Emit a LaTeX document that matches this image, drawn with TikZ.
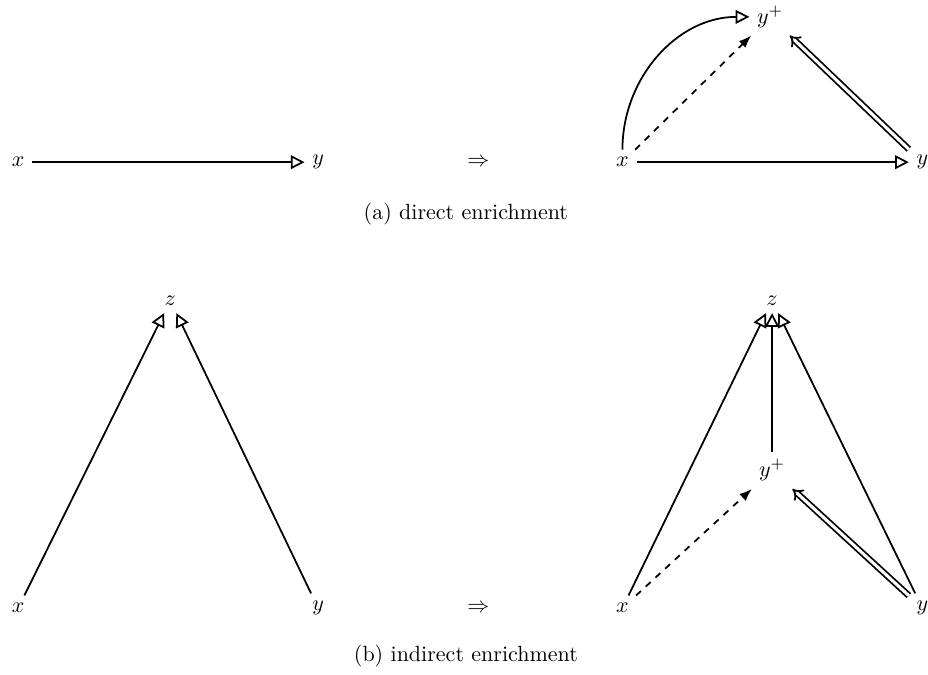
\documentclass[tikz,border=0pt]{standalone}
\usepackage{amsmath,amssymb}
\usetikzlibrary{arrows.meta,positioning}

\begin{document}
\begin{tikzpicture}[
  edge/.style={-{Triangle[open,length=2.2mm,width=2.2mm]}, thick},
  enrich/.style={-{Latex[length=2mm]}, thick, dashed},
  lift/.style={-{Implies}, double, thick, double distance=1.4pt},
  caption/.style={font=\normalsize}
]
\useasboundingbox (0,0) rectangle (14.82,10.77);

% (a) direct enrichment
\node (xa) at (0.29,8.18) {$x$};
\node (ya) at (5.08,8.18) {$y$};
\node (ia) at (7.64,8.18) {$\Rightarrow$};
\node (xA) at (9.94,8.18) {$x$};
\node (yA) at (14.73,8.18) {$y$};
\node (pA) at (12.30,10.50) {$y^+$};

\draw[edge] (xa) -- (ya);
\draw[edge] (xA) -- (yA);
\draw[edge] (xA) to[out=90, in=180] (pA);
\draw[enrich] (xA) -- (pA);
\draw[lift] (yA) -- (pA);

\node[caption] (ca) at (7.44,7.35) {(a) direct enrichment};

% (b) indirect enrichment
\node (xb) at (0.29,1.06) {$x$};
\node (yb) at (5.08,1.06) {$y$};
\node (zb) at (2.72,5.97) {$z$};
\node (ib) at (7.64,1.06) {$\Rightarrow$};
\node (xB) at (9.94,1.06) {$x$};
\node (yB) at (14.73,1.06) {$y$};
\node (zB) at (12.33,5.97) {$z$};
\node (pB) at (12.33,3.26) {$y^+$};

\draw[edge] (xb) -- (zb);
\draw[edge] (yb) -- (zb);
\draw[edge] (xB) -- (zB);
\draw[edge] (yB) -- (zB);
\draw[edge] (pB) -- (zB);
\draw[enrich] (xB) -- (pB);
\draw[lift] (yB) -- (pB);

\node[caption] (cb) at (7.44,0.30) {(b) indirect enrichment};
\end{tikzpicture}
\end{document}
